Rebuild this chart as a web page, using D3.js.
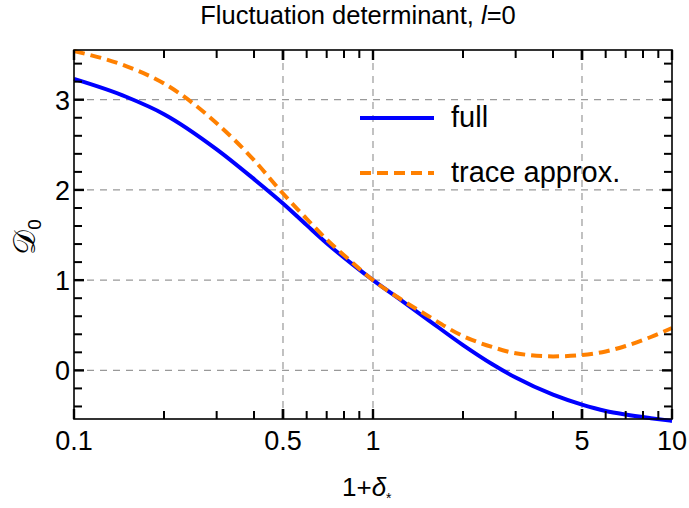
<!DOCTYPE html>
<html>
<head>
<meta charset="utf-8">
<script src="https://cdn.jsdelivr.net/npm/d3@7"></script>
<style>
  html, body { margin: 0; padding: 0; background: #fff; }
  svg text { font-family: "Liberation Sans", Arial, sans-serif; fill: #000; }
</style>
</head>
<body>
<svg id="chart" width="689" height="508"></svg>
<script>
// Sample points of the two determinant curves (x = 1+δ*, log-spaced)
const xValues   = [0.1, 0.15, 0.2, 0.3, 0.4, 0.5, 0.6, 0.7, 0.85, 1, 1.25, 1.5, 2, 2.5, 3, 4, 5, 6, 7, 8.5, 10];
const fullValues  = [3.23, 3.03, 2.84, 2.45, 2.12, 1.85, 1.61, 1.41, 1.18, 1.0, 0.77, 0.58, 0.28, 0.07, -0.08, -0.27, -0.38, -0.45, -0.49, -0.53, -0.56];
const traceValues = [3.54, 3.37, 3.18, 2.74, 2.33, 1.96, 1.68, 1.45, 1.2, 1.0, 0.78, 0.62, 0.38, 0.26, 0.19, 0.155, 0.17, 0.21, 0.27, 0.37, 0.47];

const xTickLabels = [0.1, 0.5, 1, 5, 10];
const yTickLabels = [0, 1, 2, 3];
const seriesNames = ["full", "trace approx."];

const svg = d3.select("#chart");
const L = 74, R = 672, T = 50, B = 419;

const x = d3.scaleLog().domain([0.1, 10]).range([L, R]);
const y = d3.scaleLinear().domain([-0.539, 3.551]).range([B, T]);

// dashed grid
const grid = svg.append("g").attr("stroke", "#999").attr("stroke-width", 1.2)
  .attr("stroke-dasharray", "7,6");
[0.5, 1, 5].forEach(v => grid.append("line")
  .attr("x1", x(v)).attr("x2", x(v)).attr("y1", T).attr("y2", B));
yTickLabels.forEach(v => grid.append("line")
  .attr("x1", L).attr("x2", R).attr("y1", y(v)).attr("y2", y(v)));

// curves
const line = d3.line().x((d, i) => x(xValues[i])).y(d => y(d)).curve(d3.curveMonotoneX);
const plot = svg.append("g");
plot.append("path").datum(fullValues).attr("d", line)
  .attr("fill", "none").attr("stroke", "#0000ff").attr("stroke-width", 4);
plot.append("path").datum(traceValues).attr("d", line)
  .attr("fill", "none").attr("stroke", "#ff8000").attr("stroke-width", 4)
  .attr("stroke-dasharray", "11,6");

// frame ticks (inward, on all four sides)
const xMinor = [];
[0.1, 1].forEach(dec => { for (let k = 2; k <= 9; k++) xMinor.push(+(dec * k).toFixed(2)); });
const yMinor = d3.range(-0.4, 3.5, 0.2).map(v => +v.toFixed(1));
const ticks = svg.append("g").attr("stroke", "#000");
xMinor.concat(xTickLabels).forEach(v => {
  const major = xTickLabels.includes(v);
  const len = major ? 10 : 8;
  ticks.append("line").attr("x1", x(v)).attr("x2", x(v)).attr("y1", B).attr("y2", B - len)
    .attr("stroke-width", major ? 2.4 : 2);
  ticks.append("line").attr("x1", x(v)).attr("x2", x(v)).attr("y1", T).attr("y2", T + len)
    .attr("stroke-width", major ? 2.4 : 2);
});
yMinor.forEach(v => {
  const major = yTickLabels.includes(v);
  const len = major ? 10 : 8;
  ticks.append("line").attr("x1", L).attr("x2", L + len).attr("y1", y(v)).attr("y2", y(v))
    .attr("stroke-width", major ? 2.4 : 2);
  ticks.append("line").attr("x1", R).attr("x2", R - len).attr("y1", y(v)).attr("y2", y(v))
    .attr("stroke-width", major ? 2.4 : 2);
});

// frame
svg.append("rect").attr("x", L).attr("y", T).attr("width", R - L).attr("height", B - T)
  .attr("fill", "none").attr("stroke", "#000").attr("stroke-width", 1.6);

// tick labels
svg.append("g").selectAll("text").data(xTickLabels).join("text")
  .attr("x", d => x(d)).attr("y", 450).attr("text-anchor", "middle")
  .attr("font-size", 27).text(d => d);
svg.append("g").selectAll("text").data(yTickLabels).join("text")
  .attr("x", 70).attr("y", d => y(d) + 10).attr("text-anchor", "end")
  .attr("font-size", 27).text(d => d);

// title
const title = svg.append("text").attr("x", 358).attr("y", 24).attr("text-anchor", "middle")
  .attr("font-size", 25.5);
title.append("tspan").text("Fluctuation determinant, ");
title.append("tspan").attr("font-style", "italic").text("l");
title.append("tspan").text("=0");

// x-axis title
const xt = svg.append("text").attr("x", 342).attr("y", 496)
  .attr("font-size", 26);
xt.append("tspan").text("1+");
xt.append("tspan").attr("font-style", "italic").text("δ");
xt.append("tspan").attr("font-size", 14).attr("dy", 7).text("*");

// y-axis title
const yt = svg.append("text").attr("transform", "translate(35,237) rotate(-90)")
  .attr("text-anchor", "middle").attr("font-size", 31);
yt.append("tspan").attr("font-family", "'DejaVu Serif', 'DejaVu Sans', serif").text("𝒟");
yt.append("tspan").attr("font-size", 19).attr("dy", 6).text("0");

// legend
const legend = svg.append("g");
const legendStyles = [
  { color: "#0000ff", dash: null, y: 118 },
  { color: "#ff8000", dash: "11,6", y: 173 }
];
seriesNames.forEach((name, i) => {
  const s = legendStyles[i];
  legend.append("line").attr("x1", 360).attr("x2", 434).attr("y1", s.y).attr("y2", s.y)
    .attr("stroke", s.color).attr("stroke-width", 4)
    .attr("stroke-dasharray", s.dash);
  legend.append("text").attr("x", 451).attr("y", s.y + 9).attr("font-size", 29).text(name);
});
</script>
</body>
</html>
